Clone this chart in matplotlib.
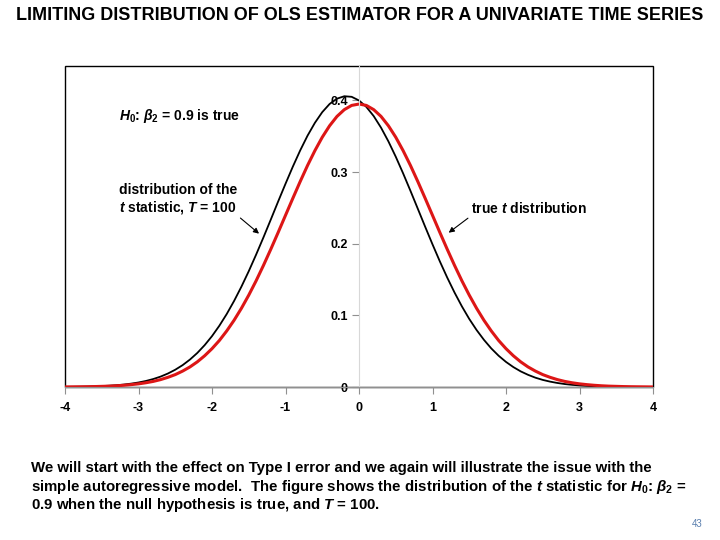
import numpy as np
import matplotlib
matplotlib.use('Agg')
from matplotlib import pyplot as plt
from matplotlib.patches import Rectangle

plt.rcParams['font.family'] = ['Liberation Sans', 'DejaVu Sans']
plt.rcParams['font.weight'] = 'bold'
plt.rcParams['mathtext.fontset'] = 'custom'
plt.rcParams['mathtext.rm'] = 'Liberation Sans:bold'
plt.rcParams['mathtext.it'] = 'Liberation Sans:italic:bold'
plt.rcParams['mathtext.bf'] = 'Liberation Sans:bold'

# t values from -4 to 4 in steps of 0.1
t_grid = np.linspace(-4, 4, 81)

# density of the t statistic, T = 100
density_t100 = [
    0.0002, 0.0003, 0.0004, 0.0006, 0.0009, 0.0013, 0.0018, 0.0025, 0.0034, 0.0047,
    0.0063, 0.0084, 0.0111, 0.0145, 0.0188, 0.0241, 0.0305, 0.0383, 0.0475, 0.0584,
    0.0710, 0.0855, 0.1018, 0.1200, 0.1400, 0.1616, 0.1847, 0.2088, 0.2337, 0.2589,
    0.2836, 0.3076, 0.3302, 0.3508, 0.3687, 0.3836, 0.3950, 0.4024, 0.4058, 0.4050,
    0.3999, 0.3909, 0.3781, 0.3619, 0.3428, 0.3214, 0.2982, 0.2738, 0.2488, 0.2237,
    0.1991, 0.1753, 0.1528, 0.1318, 0.1125, 0.0950, 0.0795, 0.0658, 0.0538, 0.0436,
    0.0350, 0.0278, 0.0218, 0.0170, 0.0130, 0.0099, 0.0075, 0.0056, 0.0041, 0.0030,
    0.0022, 0.0016, 0.0011, 0.0008, 0.0005, 0.0004, 0.0002, 0.0002, 0.0001, 0.0001,
    0.0000,
]

# true t distribution
density_true = [
    0.0001, 0.0002, 0.0003, 0.0004, 0.0006, 0.0009, 0.0012, 0.0017, 0.0024, 0.0033,
    0.0044, 0.0059, 0.0078, 0.0103, 0.0135, 0.0173, 0.0222, 0.0280, 0.0351, 0.0436,
    0.0535, 0.0649, 0.0782, 0.0931, 0.1098, 0.1282, 0.1482, 0.1697, 0.1923, 0.2157,
    0.2396, 0.2634, 0.2868, 0.3092, 0.3299, 0.3486, 0.3646, 0.3776, 0.3871, 0.3930,
    0.3949,
    0.3930, 0.3871, 0.3776, 0.3646, 0.3486, 0.3299, 0.3092, 0.2868, 0.2634, 0.2396,
    0.2157, 0.1923, 0.1697, 0.1482, 0.1282, 0.1098, 0.0931, 0.0782, 0.0649, 0.0535,
    0.0436, 0.0351, 0.0280, 0.0222, 0.0173, 0.0135, 0.0103, 0.0078, 0.0059, 0.0044,
    0.0033, 0.0024, 0.0017, 0.0012, 0.0009, 0.0006, 0.0004, 0.0003, 0.0002, 0.0001,
]

x_ticks = [-4, -3, -2, -1, 0, 1, 2, 3, 4]
y_ticks = [0, 0.1, 0.2, 0.3, 0.4]
y_labels = ['0', '0.1', '0.2', '0.3', '0.4']

fig = plt.figure(figsize=(7.2, 5.4), dpi=100)
ax = fig.add_axes([65 / 720, 1 - 387 / 540, 588 / 720, 321 / 540])

ax.plot(t_grid, density_t100, color='black', lw=1.3)
ax.plot(t_grid, density_true, color='#dd1616', lw=2.2)

ax.set_xlim(-4, 4)
ax.set_ylim(0, 0.448)

# y axis sits at t = 0
ax.spines['left'].set_position(('data', 0))
ax.spines['left'].set_color('#d8d8d8')
ax.spines['bottom'].set_color('#909090')
ax.spines['top'].set_visible(False)
ax.spines['right'].set_visible(False)
ax.add_patch(Rectangle((0, 0), 1, 1, transform=ax.transAxes, fill=False,
                       ec='black', lw=1, clip_on=False))

ax.set_xticks(x_ticks)
ax.set_xticklabels([str(v) for v in x_ticks], fontsize=9, fontweight='bold')
ax.set_yticks(y_ticks)
ax.set_yticklabels(y_labels, fontsize=9, fontweight='bold')
ax.tick_params(axis='x', direction='out', length=5, color='#909090', pad=6)
ax.tick_params(axis='y', direction='out', length=5, color='#909090', pad=3)

ax.text(-3.26, 0.3785, r'$H_0$: $\beta_2$ = 0.9 is true', fontsize=10,
        va='center', ha='left')
ax.annotate('distribution of the\n' + r'$t$' + ' statistic, ' + r'$T$' + ' = 100',
            xy=(-1.36, 0.214), xytext=(-3.26, 0.262), fontsize=10,
            ha='left', va='center', linespacing=1.15,
            arrowprops=dict(arrowstyle='-|>', color='black', lw=0.8,
                            mutation_scale=8, shrinkA=0, shrinkB=0,
                            relpos=(1.0, 0.0)))
ax.annotate('true ' + r'$t$' + ' distribution', xy=(1.19, 0.213),
            xytext=(1.52, 0.249), fontsize=10, ha='left', va='center',
            arrowprops=dict(arrowstyle='-|>', color='black', lw=0.8,
                            mutation_scale=8, shrinkA=0, shrinkB=2,
                            relpos=(0.0, 0.0)))

fig.text(0.5, 1 - 15 / 540, 'LIMITING DISTRIBUTION OF OLS ESTIMATOR FOR A UNIVARIATE TIME SERIES',
         ha='center', va='center', fontsize=13, fontweight='bold')

para = [
    'We will start with the effect on Type I error and we again will illustrate the issue with the',
    'simple autoregressive model.  The figure shows the distribution of the ' + r'$t$'
    + ' statistic for ' + r'$H_0$: $\beta_2$ =',
    '0.9 when the null hypothesis is true, and ' + r'$T$' + ' = 100.',
]
for i, line in enumerate(para):
    fig.text(31 / 720, 1 - (468 + 18.5 * i) / 540, line, ha='left', va='center',
             fontsize=10.8, fontweight='bold')

fig.text(697 / 720, 1 - 524 / 540, '43', ha='center', va='center', fontsize=7,
         color='#5a7fae', fontweight='normal')

fig.savefig('out.png', dpi=100)
